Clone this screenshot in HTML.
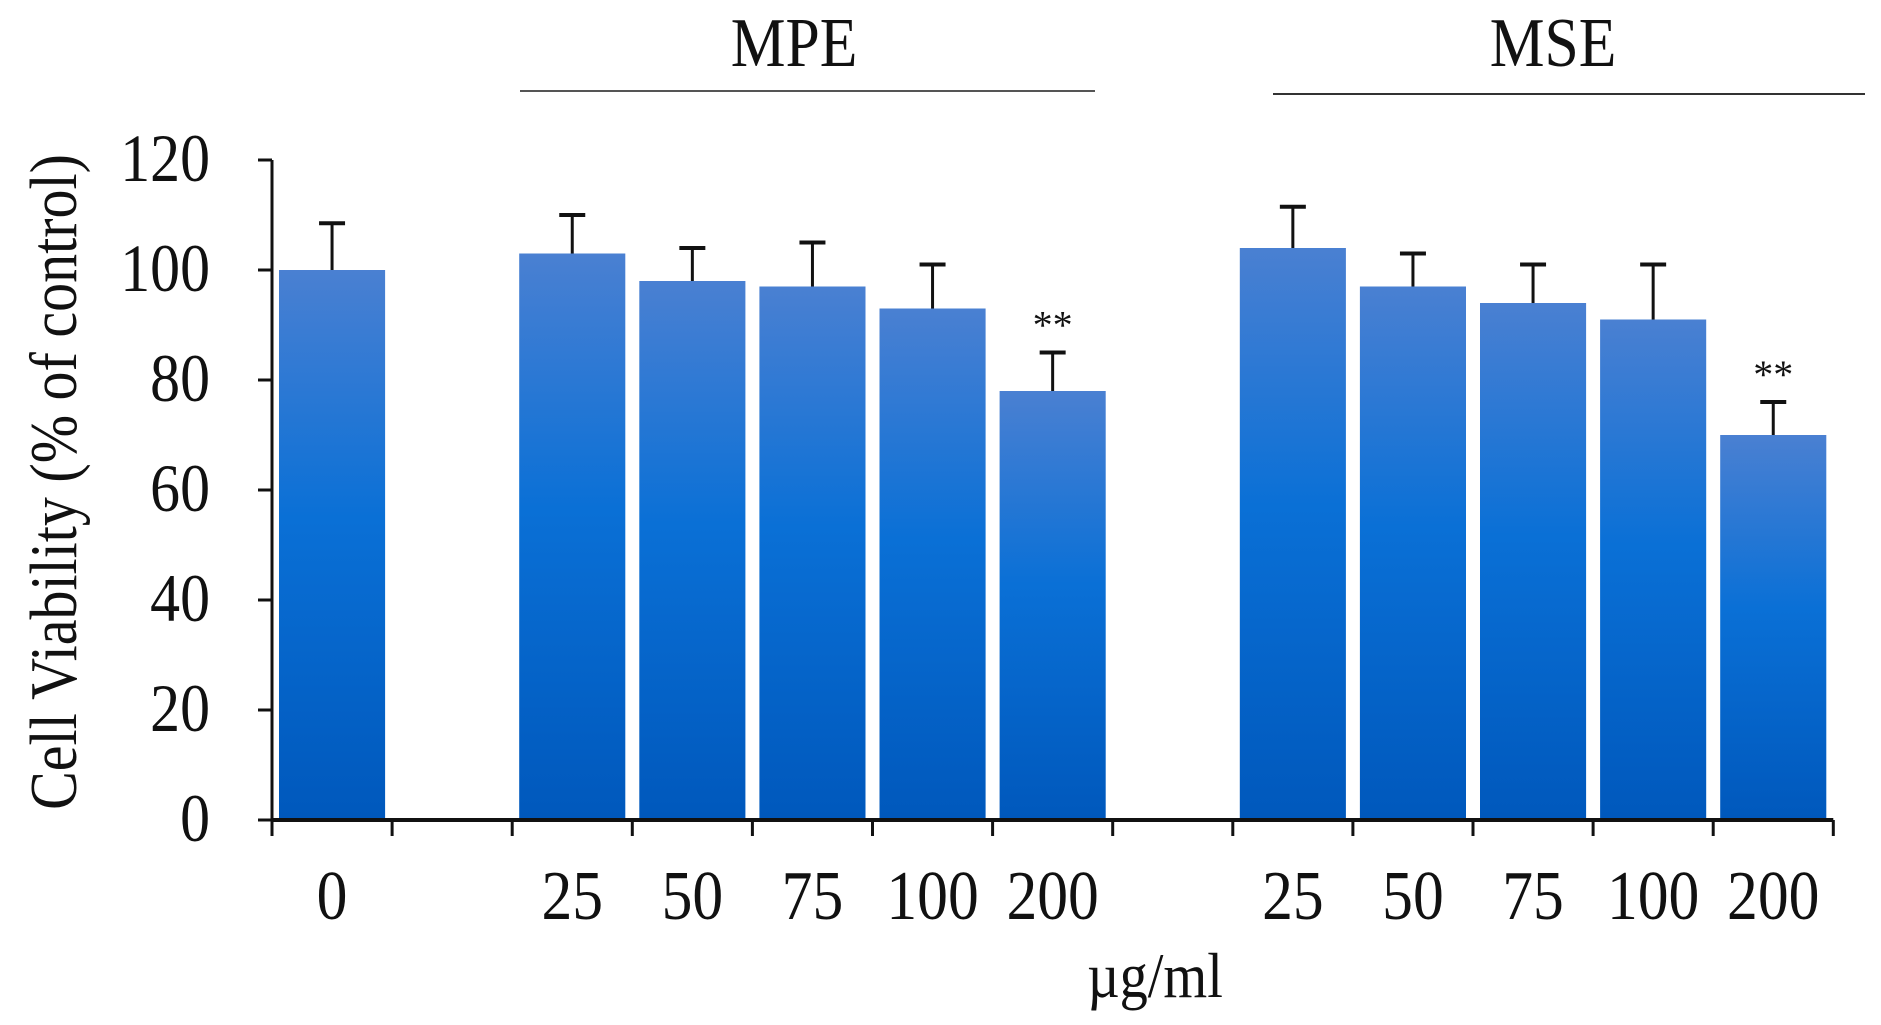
<!DOCTYPE html>
<html><head><meta charset="utf-8"><style>
body{margin:0;background:#fff}
svg{display:block}
text{font-family:"Liberation Serif",serif;fill:#111}
</style></head><body>
<svg id="chart" width="1881" height="1025" viewBox="0 0 1881 1025">
<defs><linearGradient id="g" x1="0" y1="0" x2="0" y2="1">
<stop offset="0" stop-color="#4a80d2"/><stop offset="0.45" stop-color="#0a70d6"/><stop offset="1" stop-color="#0058bc"/></linearGradient></defs>
<g id="bars"></g><g id="axes"></g>
</svg>
<script>
const slots = [0,2,3,4,5,6,8,9,10,11,12];
const categories = ["0","25","50","75","100","200","25","50","75","100","200"];
const values = [100,103,98,97,93,78,104,97,94,91,70];
const errTops = [108.5,110,104,105,101,85,111.5,103,101,101,76];
const signif = ["","","","","","**","","","","","**"];
const yTicks = [0,20,40,60,80,100,120];
const NS="http://www.w3.org/2000/svg";
const x0=272, slotW=120.1, nSlots=13, y0=820, yTop=160;
const y=v=>y0-(v/120)*(y0-yTop);
const xs=i=>x0+i*slotW;
const bars=document.getElementById('bars'), axes=document.getElementById('axes');
function mk(tag,attrs,parent,txt){const e=document.createElementNS(NS,tag);for(const k in attrs)e.setAttribute(k,attrs[k]);if(txt!==undefined)e.textContent=txt;parent.appendChild(e);return e;}
function lbl(x,yy,size,anchor,txt){
 const g=mk('g',{transform:`translate(${x},${yy}) scale(0.88,1)`},axes);
 return mk('text',{x:0,y:0,'font-size':size,'text-anchor':anchor},g,txt);
}
values.forEach((v,i)=>{
 const bx=xs(slots[i])+7, bw=slotW-14, cx=bx+bw/2;
 const eb=mk('line',{x1:cx,x2:cx,y1:y(v),y2:y(errTops[i]),stroke:'#111','stroke-width':3},bars);
 
 
 const cap=mk('line',{x1:cx-13,x2:cx+13,y1:y(errTops[i]),y2:y(errTops[i]),stroke:'#111','stroke-width':4},bars);
 
 
 const r=mk('rect',{x:bx,y:y(v),width:bw,height:y0-y(v),fill:'url(#g)'},bars);
 
 
 const t=lbl(xs(slots[i])+slotW/2,919,70,'middle',categories[i]);
 
 
 if(signif[i]){const s=mk('text',{x:cx,y:y(errTops[i])-14,'font-size':40,'text-anchor':'middle',fill:'#444'},axes,signif[i]);
 
 }
});
const ya=mk('line',{x1:x0,x2:x0,y1:yTop,y2:y0,stroke:'#111','stroke-width':3},axes);


const xa=mk('line',{x1:x0,x2:xs(nSlots),y1:y0,y2:y0,stroke:'#111','stroke-width':4},axes);


for(let i=0;i<=nSlots;i++){mk('line',{x1:xs(i),x2:xs(i),y1:y0,y2:y0+16,stroke:'#111','stroke-width':3},axes);}
yTicks.forEach(t=>{
 mk('line',{x1:x0-14,x2:x0,y1:y(t),y2:y(t),stroke:'#111','stroke-width':3},axes);
 const l=lbl(x0-62,y(t)+21,68,'end',t);
 
 
});
</script>
<svg style="position:absolute;left:0;top:0" width="1881" height="1025">
<text transform="translate(76,482) rotate(-90) scale(1,1.15)" text-anchor="middle" font-size="58">Cell Viability (% of control)</text>
<g transform="translate(794,66) scale(0.88,1)"><text x="0" y="0" text-anchor="middle" font-size="70">MPE</text></g>
<line x1="520" x2="1095" y1="91" y2="91" stroke="#555" stroke-width="2"/>
<g transform="translate(1553,66) scale(0.88,1)"><text x="0" y="0" text-anchor="middle" font-size="70">MSE</text></g>
<line x1="1273" x2="1865" y1="94" y2="94" stroke="#333" stroke-width="2"/>
<g transform="translate(1155,997) scale(0.88,1)"><text x="0" y="0" text-anchor="middle" font-size="64">µg/ml</text></g>
</svg>
</body></html>
